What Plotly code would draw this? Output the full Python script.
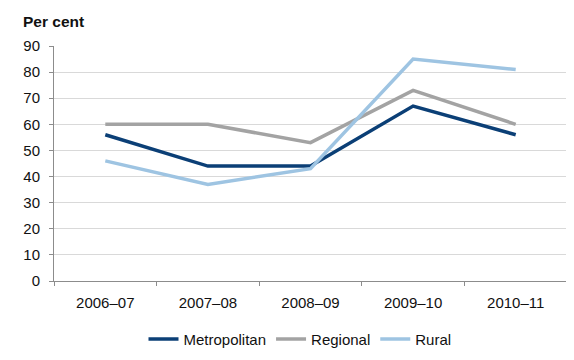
import plotly.graph_objects as go

categories = ["2006–07", "2007–08", "2008–09", "2009–10", "2010–11"]
metropolitan = [56, 44, 44, 67, 56]
regional = [60, 60, 53, 73, 60]
rural = [46, 37, 43, 85, 81]
y_ticks = [0, 10, 20, 30, 40, 50, 60, 70, 80, 90]

series = [
    ("Metropolitan", metropolitan, "#0b3f76"),
    ("Regional", regional, "#a3a3a3"),
    ("Rural", rural, "#9ec4e2"),
]

fig = go.Figure()
for name, vals, col in series:
    fig.add_trace(go.Scatter(x=categories, y=vals, name=name, mode="lines",
                             line=dict(color=col, width=3.5)))

W, H = 574, 360
L, R, T, B = 46, 15, 38, 76
font = dict(family="Liberation Sans, Arial, sans-serif", size=15, color="#111111")
fig.update_layout(
    width=W, height=H,
    margin=dict(l=L, r=R, t=T, b=B),
    paper_bgcolor="white", plot_bgcolor="white",
    font=font,
    showlegend=True,
    legend=dict(orientation="h", x=(292 - L) / (W - L - R), xanchor="center",
                y=-(345 - (H - B)) / (H - T - B), yanchor="middle",
                font=dict(size=15), tracegroupgap=0),
    xaxis=dict(type="category", range=[-0.5, 4.5], showline=True, linecolor="#8c8c8c",
               linewidth=1, ticks="outside", ticklen=4, tickcolor="#8c8c8c",
               tickson="boundaries", showgrid=False, zeroline=False,
               automargin=False, ticklabelstandoff=8),
    yaxis=dict(range=[0, 90], tickvals=y_ticks, showline=True, linecolor="#8c8c8c",
               linewidth=1, ticks="outside", ticklen=4, tickcolor="#8c8c8c",
               showgrid=True, gridcolor="#d9d9d9", gridwidth=1, zeroline=False,
               automargin=False, ticklabelstandoff=6),
    annotations=[dict(text="<b>Per cent</b>",
                      x=(13 - L) / (W - L - R), y=1 + (T - 12) / (H - T - B),
                      xref="paper", yref="paper",
                      showarrow=False, xanchor="left", yanchor="middle",
                      font=dict(size=15.5, color="#111111"))],
)

fig.write_html("out.html")
